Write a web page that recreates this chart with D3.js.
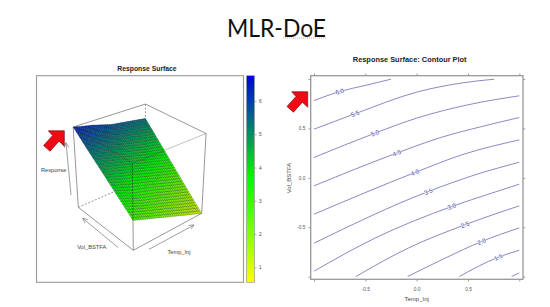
<!DOCTYPE html>
<html>
<head>
<meta charset="utf-8">
<script src="https://cdn.jsdelivr.net/npm/d3@7"></script>
<style>
  html, body { margin: 0; padding: 0; background: #fff; }
  text { font-family: "Liberation Sans", Arial, sans-serif; }
</style>
</head>
<body>
<div id="chart"></div>
<script>
var svgWidth = 550;
var svgHeight = 307;

// response, rows = Vol_BSTFA, columns = Temp_Inj
var gridTemp = [-1, -0.5, 0, 0.5, 1];
var gridVol = [-1, -0.5, 0, 0.5, 1];
var gridResponse = [
  [2.90, 2.40, 1.90, 1.40, 0.92],
  [3.77, 3.23, 2.86, 2.42, 2.01],
  [4.64, 4.27, 3.89, 3.50, 3.14],
  [5.49, 5.19, 4.80, 4.50, 4.26],
  [6.38, 6.10, 5.75, 5.57, 5.38]
];
var colorbarTicks = [1, 2, 3, 4, 5, 6];

// contour lines as [Temp_Inj, Vol_BSTFA], labelAt = vertex carrying the label
var contourLevels = ["6.0", "5.5", "5.0", "4.5", "4.0", "3.5", "3.0", "2.5", "2.0", "1.5", "1.0"];
var contourLines = [
  [[-1, 0.782], [-0.75, 0.873], [-0.5, 0.935], [-0.25, 0.998]],
  [[-1, 0.492], [-0.6, 0.648], [0, 0.867], [0.44, 0.96], [0.757, 0.998]],
  [[-1, 0.206], [-0.406, 0.452], [0, 0.604], [0.5, 0.739], [1, 0.83]],
  [[-1, -0.081], [-0.195, 0.25], [0.244, 0.411], [0.633, 0.519], [1, 0.61]],
  [[-1, -0.368], [-0.016, 0.054], [0.44, 0.233], [1, 0.384]],
  [[-1, -0.661], [0.114, -0.138], [0.568, 0.03], [1, 0.158]],
  [[-1, -0.944], [-0.406, -0.61], [0.341, -0.29], [0.73, -0.155], [1, -0.064]],
  [[-0.591, -0.998], [-0.081, -0.71], [0.47, -0.475], [1, -0.283]],
  [[-0.088, -0.998], [0.276, -0.813], [0.633, -0.644], [1, -0.506]],
  [[0.416, -0.998], [0.795, -0.803], [1, -0.732]],
  [[0.925, -0.998], [1, -0.961]]
];
var contourLabelAt = [1, 1, 1, 1, 1, 1, 2, 2, 2, 1, -1];
var contourTicks = [-1, -0.5, 0, 0.5, 1];

var frameColor = "#999999";
var textColor = "#444444";
var lineColor = "#7474bc";

var svg = d3.select("#chart").append("svg")
  .attr("width", svgWidth)
  .attr("height", svgHeight)
  .style("display", "block");

// slide title
svg.append("text")
  .attr("x", 276.5)
  .attr("y", 37)
  .attr("text-anchor", "middle")
  .attr("textLength", 99)
  .attr("lengthAdjust", "spacingAndGlyphs")
  .style("font-family", "Lato, sans-serif")
  .style("font-size", "24.5px")
  .style("fill", "#111")
  .text("MLR-DoE");
svg.append("line")
  .attr("x1", 283).attr("x2", 327).attr("y1", 38).attr("y2", 38)
  .attr("stroke", "#d98a8a").attr("stroke-width", 0.8).attr("stroke-dasharray", "1 1");

// ---------- left panel: 3D surface ----------
var surfaceColor = d3.scaleLinear()
  .domain([0.55, 3.65, 6.76])
  .range(["#ffff00", "#00ff00", "#0000e0"]);

var uScale = d3.scaleLinear().domain([-1, 1]).range([0, 1]);
var vScale = d3.scaleLinear().domain([-1, 1]).range([0, 1]);
var wScale = d3.scaleLinear().domain([0.92, 6.38]).range([0, 1]);

// perspective box: front corner, the three corners next to it, and shrink per axis
var boxOrigin = [133.3, 250.3];
var boxTemp = [201.7, 213.3];
var boxVol = [78.3, 207.3];
var boxResp = [132.3, 163.3];
var shrink = { u: 0.12, v: 0.12, w: -0.08 };

function axisVector(corner, k) {
  return [(1 + k) * corner[0] - boxOrigin[0], (1 + k) * corner[1] - boxOrigin[1]];
}
var vecU = axisVector(boxTemp, shrink.u);
var vecV = axisVector(boxVol, shrink.v);
var vecW = axisVector(boxResp, shrink.w);

function projectUnit(u, v, w) {
  var d = 1 + shrink.u * u + shrink.v * v + shrink.w * w;
  return [
    (boxOrigin[0] + u * vecU[0] + v * vecV[0] + w * vecW[0]) / d,
    (boxOrigin[1] + u * vecU[1] + v * vecV[1] + w * vecW[1]) / d
  ];
}

function project(temp, vol, resp) {
  return projectUnit(uScale(temp), vScale(vol), wScale(resp));
}

function responseAt(temp, vol) {
  var fx = (temp + 1) * 2, fy = (vol + 1) * 2;
  var ix = Math.min(Math.floor(fx), gridTemp.length - 2);
  var iy = Math.min(Math.floor(fy), gridVol.length - 2);
  var tx = fx - ix, ty = fy - iy;
  return d3.interpolateNumber(
    d3.interpolateNumber(gridResponse[iy][ix], gridResponse[iy][ix + 1])(tx),
    d3.interpolateNumber(gridResponse[iy + 1][ix], gridResponse[iy + 1][ix + 1])(tx)
  )(ty);
}

var leftPanel = { x: 36.5, y: 75.7, w: 207, h: 206.6 };
svg.append("rect")
  .attr("x", leftPanel.x).attr("y", leftPanel.y)
  .attr("width", leftPanel.w).attr("height", leftPanel.h)
  .attr("fill", "#fff").attr("stroke", frameColor).attr("stroke-width", 1.1);

svg.append("text")
  .attr("x", 147).attr("y", 70.5)
  .attr("text-anchor", "middle")
  .style("font-size", "6.8px").style("font-weight", "bold").style("fill", "#222")
  .text("Response Surface");

function boxEdge(a, b, dashed, color, width) {
  var p = projectUnit(+a[0], +a[1], +a[2]);
  var q = projectUnit(+b[0], +b[1], +b[2]);
  svg.append("line")
    .attr("x1", p[0]).attr("y1", p[1])
    .attr("x2", q[0]).attr("y2", q[1])
    .attr("stroke", color || "#8c8c8c")
    .attr("stroke-width", width || 0.9)
    .attr("stroke-dasharray", dashed ? "2 1.6" : null);
}

// hidden edges first
boxEdge("010", "110", true);
boxEdge("100", "110", true);
boxEdge("110", "111", true);

// outer edges
boxEdge("011", "111");
boxEdge("111", "101");
boxEdge("011", "010");
boxEdge("101", "100");
boxEdge("010", "000");
boxEdge("000", "100");
boxEdge("000", "001");

// facets, 9 per grid step
var meshSteps = d3.range(0, 36);
var facets = [];
meshSteps.forEach(function(i) {
  meshSteps.forEach(function(j) {
    var t0 = -1 + i / 18, t1 = -1 + (i + 1) / 18;
    var v0 = -1 + j / 18, v1 = -1 + (j + 1) / 18;
    var corners = [[t0, v0], [t1, v0], [t1, v1], [t0, v1]];
    facets.push({
      pts: corners.map(function(c) { return project(c[0], c[1], responseAt(c[0], c[1])); }),
      z: responseAt((t0 + t1) / 2, (v0 + v1) / 2)
    });
  });
});

svg.append("g").selectAll("path")
  .data(facets)
  .enter()
  .append("path")
  .attr("d", function(d) { return "M" + d.pts.join("L") + "Z"; })
  .attr("fill", function(d) { return surfaceColor(d.z); })
  .attr("stroke", "#000")
  .attr("stroke-opacity", 0.5)
  .attr("stroke-width", 0.4);

// box edges seen through the surface
boxEdge("001", "011", false, "#333", 0.3);
boxEdge("001", "101", false, "#333", 0.3);
var frontLow = project(-1, -1, gridResponse[0][0]);
var frontTop = projectUnit(0, 0, 1);
svg.append("line")
  .attr("x1", frontTop[0]).attr("y1", frontTop[1])
  .attr("x2", frontLow[0]).attr("y2", frontLow[1])
  .attr("stroke", "#222").attr("stroke-width", 0.55).attr("stroke-dasharray", "2 1.2");

// axis captions with their arrows
svg.append("defs").append("marker")
  .attr("id", "openHead")
  .attr("viewBox", "0 0 8 8").attr("refX", 7.5).attr("refY", 4)
  .attr("markerWidth", 5.5).attr("markerHeight", 5.5)
  .attr("markerUnits", "userSpaceOnUse")
  .attr("orient", "auto")
  .append("path")
  .attr("d", "M0,0.5L7.5,4L0,7.5")
  .attr("fill", "none").attr("stroke", "#777").attr("stroke-width", 0.9);

var axisArrows = [
  [71, 195, 66, 142.7],
  [118.3, 247.7, 82.7, 218.3],
  [149, 249.3, 194, 225]
];
svg.append("g").selectAll("line")
  .data(axisArrows)
  .enter()
  .append("line")
  .attr("x1", function(d) { return d[0]; })
  .attr("y1", function(d) { return d[1]; })
  .attr("x2", function(d) { return d[2]; })
  .attr("y2", function(d) { return d[3]; })
  .attr("stroke", "#777").attr("stroke-width", 0.7)
  .attr("marker-end", "url(#openHead)");

var axisCaptions = [
  ["Response", 53.7, 171.5],
  ["Vol_BSTFA", 91.7, 248.8],
  ["Temp_Inj", 179, 253.8]
];
svg.append("g").selectAll("text")
  .data(axisCaptions)
  .enter()
  .append("text")
  .attr("x", function(d) { return d[1]; })
  .attr("y", function(d) { return d[2]; })
  .attr("text-anchor", "middle")
  .style("font-size", "5.7px").style("fill", textColor)
  .text(function(d) { return d[0]; });

// colour bar
var barScale = d3.scaleLinear().domain([0.55, 6.76]).range([282.3, 75.7]);
var barGrad = svg.select("defs").append("linearGradient")
  .attr("id", "barGrad")
  .attr("x1", 0).attr("y1", 1).attr("x2", 0).attr("y2", 0);
barGrad.selectAll("stop")
  .data(surfaceColor.domain())
  .enter()
  .append("stop")
  .attr("offset", function(d) { return (d - 0.55) / (6.76 - 0.55); })
  .attr("stop-color", function(d) { return surfaceColor(d); });
svg.append("rect")
  .attr("x", 246.5).attr("y", 75.7)
  .attr("width", 8).attr("height", 206.6)
  .attr("fill", "url(#barGrad)")
  .attr("stroke", frameColor).attr("stroke-width", 0.7);

var barAxis = d3.axisRight(barScale)
  .tickValues(colorbarTicks)
  .tickSize(1.8)
  .tickPadding(2.5)
  .tickFormat(d3.format("d"));
var barG = svg.append("g")
  .attr("transform", "translate(254.8,0)")
  .call(barAxis);
barG.select(".domain").remove();
barG.selectAll("line").attr("stroke", "#666").attr("stroke-width", 0.5);
barG.selectAll("text").style("font-size", "4.6px").style("fill", "#444");

// ---------- right panel: contour plot ----------
var xScale = d3.scaleLinear().domain([-1, 1]).range([314, 519.3]);
var yScale = d3.scaleLinear().domain([-1, 1]).range([276.7, 79]);
var rightPanel = { x: 310.7, y: 75.7, w: 212.3, h: 203.6 };

svg.append("text")
  .attr("x", 409.7).attr("y", 61.5)
  .attr("text-anchor", "middle")
  .style("font-size", "7.4px").style("font-weight", "bold").style("fill", "#222")
  .text("Response Surface: Contour Plot");

var tickLabel = function(d) {
  return Math.abs(d) === 1 ? "" : d3.format(".1f")(d).replace("\u2212", "-");
};

function drawAxis(axis, transform, showLabels) {
  var g = svg.append("g").attr("transform", transform).call(axis);
  g.select(".domain").remove();
  g.selectAll("line").attr("stroke", "#555").attr("stroke-width", 0.6);
  g.selectAll("text").style("font-size", "4.8px").style("fill", "#555");
  if (!showLabels) g.selectAll("text").remove();
}
drawAxis(d3.axisBottom(xScale).tickValues(contourTicks).tickSize(2.2).tickPadding(6.5).tickFormat(tickLabel),
  "translate(0," + (rightPanel.y + rightPanel.h) + ")", true);
drawAxis(d3.axisTop(xScale).tickValues(contourTicks).tickSize(2.2),
  "translate(0," + rightPanel.y + ")", false);
drawAxis(d3.axisLeft(yScale).tickValues(contourTicks).tickSize(2.2).tickPadding(3).tickFormat(tickLabel),
  "translate(" + rightPanel.x + ",0)", true);
drawAxis(d3.axisRight(yScale).tickValues(contourTicks).tickSize(2.2),
  "translate(" + (rightPanel.x + rightPanel.w) + ",0)", false);

svg.append("rect")
  .attr("x", rightPanel.x).attr("y", rightPanel.y)
  .attr("width", rightPanel.w).attr("height", rightPanel.h)
  .attr("fill", "none").attr("stroke", frameColor).attr("stroke-width", 1.3);

var contourPath = d3.line()
  .x(function(d) { return xScale(d[0]); })
  .y(function(d) { return yScale(d[1]); })
  .curve(d3.curveMonotoneX);

svg.append("g").selectAll("path")
  .data(contourLines)
  .enter()
  .append("path")
  .attr("d", contourPath)
  .attr("fill", "none")
  .attr("stroke", lineColor)
  .attr("stroke-width", 0.85);

contourLines.forEach(function(line, i) {
  var at = contourLabelAt[i];
  if (at < 0) return;
  var p = line[at];
  var a = line[at - 1], b = line[at + 1];
  var angle = Math.atan2(yScale(b[1]) - yScale(a[1]), xScale(b[0]) - xScale(a[0])) * 180 / Math.PI;
  svg.append("text")
    .attr("transform", "translate(" + xScale(p[0]) + "," + yScale(p[1]) + ") rotate(" + angle + ")")
    .attr("text-anchor", "middle")
    .attr("dy", "0.35em")
    .style("font-size", "6.2px")
    .style("fill", "#3f3fa6")
    .style("stroke", "#fff")
    .style("stroke-width", 0.8)
    .style("paint-order", "stroke")
    .text(contourLevels[i]);
});

svg.append("text")
  .attr("x", 416.7).attr("y", 300.5)
  .attr("text-anchor", "middle")
  .style("font-size", "6px").style("fill", textColor)
  .text("Temp_Inj");
svg.append("text")
  .attr("transform", "translate(291,178) rotate(-90)")
  .attr("text-anchor", "middle")
  .style("font-size", "6px").style("fill", textColor)
  .text("Vol_BSTFA");

// ---------- red call-out arrows ----------
var redArrow = "M16,-9.7H0L4.3,-5L-4.7,5L1.7,10.7L10.7,0.7L16,5.7Z";
var arrowSpots = [[48.3, 140.5], [291.7, 101.5]];
svg.append("g").selectAll("path")
  .data(arrowSpots)
  .enter()
  .append("path")
  .attr("transform", function(d) { return "translate(" + d[0] + "," + d[1] + ")"; })
  .attr("d", redArrow)
  .attr("fill", "#f00a14")
  .attr("stroke", "#7a1015")
  .attr("stroke-width", 0.7);
</script>
</body>
</html>
